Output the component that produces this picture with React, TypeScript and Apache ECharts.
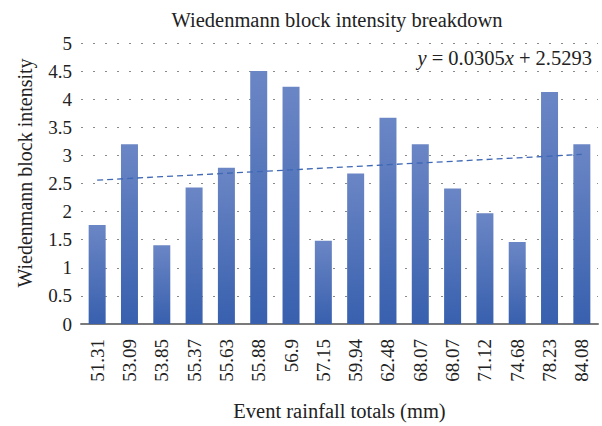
import React, { useEffect, useRef } from "react";
import * as echarts from "echarts";

const categories = ["51.31", "53.09", "53.85", "55.37", "55.63", "55.88", "56.9", "57.15", "59.94", "62.48", "68.07", "68.07", "71.12", "74.68", "78.23", "84.08"];
const intensity = [1.76, 3.2, 1.4, 2.43, 2.78, 4.5, 4.22, 1.48, 2.68, 3.67, 3.2, 2.41, 1.97, 1.46, 4.13, 3.2];
const trendSlope = 0.0305;
const trendIntercept = 2.5293;
const yTicks = { min: 0, max: 5, interval: 0.5 };

const serif = "'Liberation Serif', 'DejaVu Serif', serif";

export default function App() {
  const ref = useRef<HTMLDivElement>(null);
  useEffect(() => {
    if (!ref.current) return;
    const chart = echarts.init(ref.current, undefined, { renderer: "svg" });
    const trend = categories.map((_, i) => +(trendSlope * (i + 1) + trendIntercept).toFixed(4));
    chart.setOption({
      animation: false,
      textStyle: { fontFamily: serif },
      grid: { left: 81, right: 4, top: 43, bottom: 100, containLabel: false },
      graphic: [
        {
          type: "text",
          x: 337,
          y: 20,
          style: { text: "Wiedenmann block intensity breakdown", fontFamily: serif, fontSize: 20.5, fill: "#222", textAlign: "center", textVerticalAlign: "middle" },
        },
        {
          type: "text",
          x: 25,
          y: 173,
          rotation: Math.PI / 2,
          style: { text: "Wiedenmann block intensity", fontFamily: serif, fontSize: 20, fill: "#222", textAlign: "center", textVerticalAlign: "middle" },
        },
        {
          type: "text",
          x: 592,
          y: 58,
          style: {
            text: "{i|y} = 0.0305{i|x} + 2.5293",
            fontFamily: serif,
            fontSize: 20.5,
            fill: "#222",
            textAlign: "right",
            textVerticalAlign: "middle",
            rich: { i: { fontStyle: "italic", fontFamily: serif, fontSize: 20.5, fill: "#222" } },
          },
        },
      ],
      xAxis: {
        type: "category",
        data: categories,
        name: "Event rainfall totals (mm)",
        nameLocation: "middle",
        nameGap: 76,
        nameTextStyle: { fontFamily: serif, fontSize: 20.5, color: "#222" },
        axisLine: { lineStyle: { color: "#7a7a7a", width: 2 } },
        axisTick: { alignWithLabel: true, length: 7, lineStyle: { color: "#444", width: 1.5 } },
        axisLabel: { rotate: 90, margin: 15, fontFamily: serif, fontSize: 19, color: "#222", interval: 0 },
      },
      yAxis: {
        type: "value",
        min: yTicks.min,
        max: yTicks.max,
        interval: yTicks.interval,
        axisLine: { show: false },
        axisTick: { show: false },
        axisLabel: { margin: 9, fontFamily: serif, fontSize: 19, color: "#222" },
        splitLine: { lineStyle: { type: [2, 10], color: "#8a8a8a", width: 1.2 } },
      },
      series: [
        {
          type: "bar",
          data: intensity,
          barWidth: 17,
          itemStyle: {
            color: new echarts.graphic.LinearGradient(0, 0, 0, 1, [
              { offset: 0, color: "#6b86c5" },
              { offset: 1, color: "#3860ae" },
            ]),
          },
        },
        {
          type: "line",
          data: trend,
          symbol: "none",
          lineStyle: { type: [6, 4], color: "#3f68b5", width: 1.3 },
          z: 5,
        },
      ],
    });
    return () => chart.dispose();
  }, []);
  return <div ref={ref} style={{ width: 602, height: 426, position: "absolute", left: 0, top: 0, background: "#fff" }} />;
}
